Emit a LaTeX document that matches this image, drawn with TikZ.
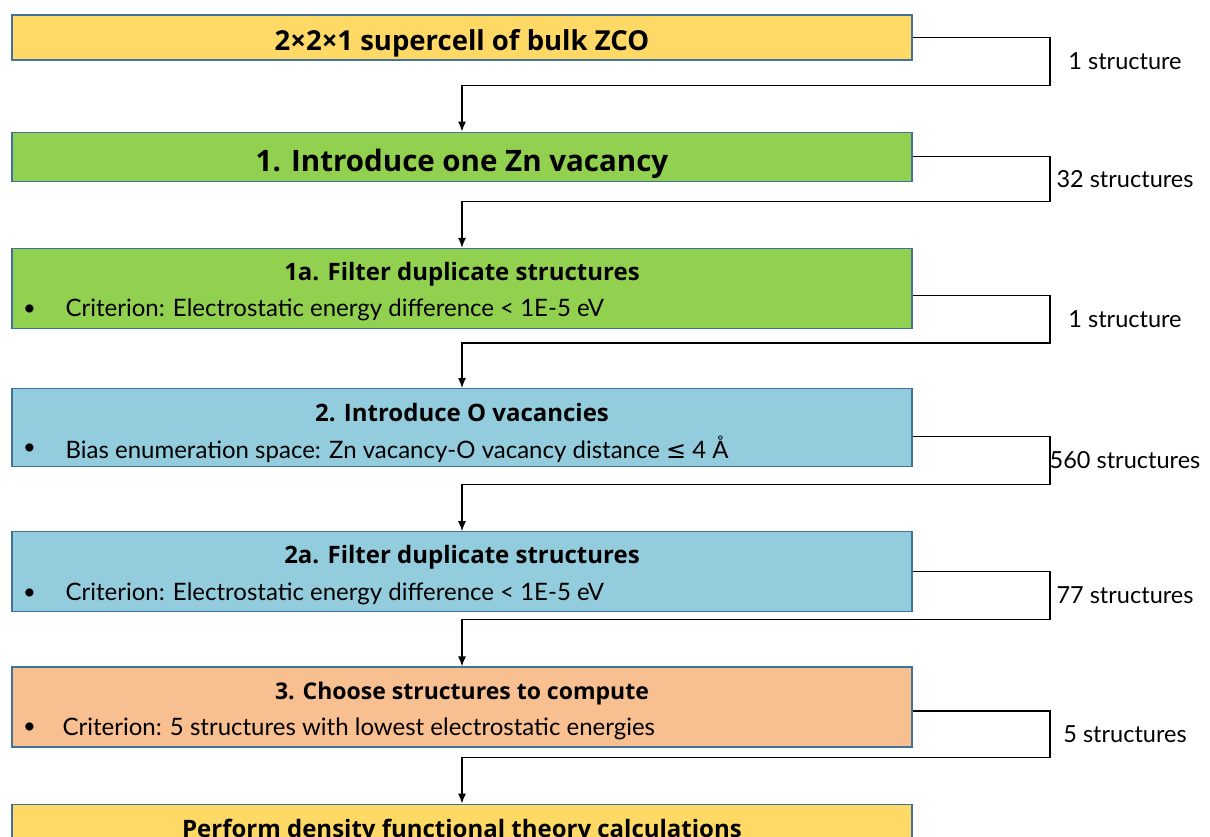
\documentclass[tikz,border=0pt]{standalone}
\usepackage{fontspec}
\setmainfont{Lato}
\newfontfamily\headfont{Open Sans}
\newfontfamily\symfont{DejaVu Sans}
\usepackage{tikz}
\usetikzlibrary{positioning,arrows.meta}
\definecolor{cellyellow}{HTML}{FFD966}
\definecolor{stepgreen}{HTML}{92D050}
\definecolor{stepblue}{HTML}{93CDDD}
\definecolor{steporange}{HTML}{F8C091}
\definecolor{boxedge}{HTML}{41719C}

\begin{document}
\begin{tikzpicture}[x=1pt, y=-1pt,
box/.style={rectangle, draw=boxedge, line width=1.2pt, minimum width=900pt, inner sep=0pt},
title/.style={font=\headfont\bfseries\fontsize{24}{28}\selectfont, inner sep=0pt},
dot/.style={font=\fontsize{22}{26}\selectfont, inner sep=0pt},
item/.style={font=\fontsize{24}{28}\selectfont, anchor=west, inner sep=0pt},
count/.style={font=\fontsize{23.5}{27}\selectfont, xshift=75pt, inner sep=0pt},
link/.style={draw=black, line width=1.3pt, -{Latex[length=10pt,width=8pt]}},
]
\useasboundingbox (0,0) rectangle (1210,836);
\coordinate (rail) at (1050,0);

\node (bulk) [box, fill=cellyellow, minimum height=45pt] at (462,37.5) {};
\node (znvac) [box, fill=stepgreen, minimum height=49pt, below=71pt of bulk] {};
\node (filterzn) [box, fill=stepgreen, minimum height=80pt, below=66pt of znvac] {};
\node (ovac) [box, fill=stepblue, minimum height=78pt, below=59pt of filterzn] {};
\node (filtero) [box, fill=stepblue, minimum height=80pt, below=64pt of ovac] {};
\node (choose) [box, fill=steporange, minimum height=80pt, below=54pt of filtero] {};
\node (dft) [box, fill=cellyellow, minimum height=80pt, below=56pt of choose] {};

\node (bulktitle) [title, font=\headfont\bfseries\fontsize{27.5}{31}\selectfont] at ([yshift=-6pt]bulk) {2×2×1 supercell of bulk ZCO};
\node (znvactitle) [title, font=\headfont\bfseries\fontsize{29.5}{33}\selectfont] at ([yshift=-7pt]znvac) {1. Introduce one Zn vacancy};

\node (filternztitle) [title] at ([yshift=-26pt]filterzn.north) {1a. Filter duplicate structures};
\node (filterzndot) [dot] at ([xshift=18pt, yshift=-62pt]filterzn.north west) {•};
\node (filterzntext) [item] at ([xshift=54pt, yshift=-62pt]filterzn.north west) {Criterion: Electrostatic energy difference < 1E-5 eV};

\node (ovactitle) [title] at ([yshift=-25pt]ovac.north) {2. Introduce O vacancies};
\node (ovacdot) [dot] at ([xshift=18pt, yshift=-61pt]ovac.north west) {•};
\node (ovactext) [item] at ([xshift=54pt, yshift=-61pt]ovac.north west) {Bias enumeration space: Zn vacancy-O vacancy distance {\symfont ≤} 4 Å};

\node (filterotitle) [title] at ([yshift=-26pt]filtero.north) {2a. Filter duplicate structures};
\node (filterodot) [dot] at ([xshift=18pt, yshift=-63pt]filtero.north west) {•};
\node (filterotext) [item] at ([xshift=54pt, yshift=-63pt]filtero.north west) {Criterion: Electrostatic energy difference < 1E-5 eV};

\node (choosetitle) [title, font=\headfont\bfseries\fontsize{23}{27}\selectfont] at ([yshift=-27pt]choose.north) {3. Choose structures to compute};
\node (choosedot) [dot] at ([xshift=18pt, yshift=-62pt]choose.north west) {•};
\node (choosetext) [item] at ([xshift=51pt, yshift=-62pt]choose.north west) {Criterion: 5 structures with lowest electrostatic energies};

\node (dfttitle) [title] at ([yshift=-28pt]dft.north) {Perform density functional theory calculations};

\coordinate (znvacin) at ([yshift=46pt]znvac.north);
\coordinate (filterznin) at ([yshift=46pt]filterzn.north);
\coordinate (ovacin) at ([yshift=45pt]ovac.north);
\coordinate (filteroin) at ([yshift=47pt]filtero.north);
\coordinate (choosein) at ([yshift=47pt]choose.north);
\coordinate (dftin) at ([yshift=46pt]dft.north);

\draw [link] (bulk.east) -- (bulk.east -| rail) -- node [count] {1 structure} (znvacin -| rail) -- (znvacin) -- (znvac.north);
\draw [link] (znvac.east) -- (znvac.east -| rail) -- node [count] {32 structures} (filterznin -| rail) -- (filterznin) -- (filterzn.north);
\draw [link] ([yshift=-7pt]filterzn.east) -- ([yshift=-7pt]filterzn.east -| rail) -- node [count] {1 structure} (ovacin -| rail) -- (ovacin) -- (ovac.north);
\draw [link] ([yshift=-9pt]ovac.east) -- ([yshift=-9pt]ovac.east -| rail) -- node [count] {560 structures} (filteroin -| rail) -- (filteroin) -- (filtero.north);
\draw [link] (filtero.east) -- (filtero.east -| rail) -- node [count] {77 structures} (choosein -| rail) -- (choosein) -- (choose.north);
\draw [link] ([yshift=-4pt]choose.east) -- ([yshift=-4pt]choose.east -| rail) -- node [count] {5 structures} (dftin -| rail) -- (dftin) -- (dft.north);

\end{tikzpicture}
\end{document}
